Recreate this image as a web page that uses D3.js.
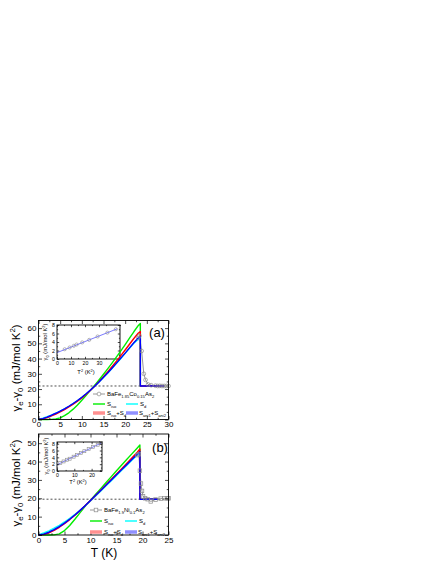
<!DOCTYPE html>
<html><head><meta charset="utf-8">
<script src="https://cdn.jsdelivr.net/npm/d3@7"></script>
<style>body{margin:0;background:#fff} text{font-family:"Liberation Sans",Arial,sans-serif}</style>
</head><body><svg id="c" width="436" height="564"></svg>
<script>
// ---------- Panel (a): BaFe1.85Co0.15As2 ----------
const xTicksA = [0,5,10,15,20,25,30];
const yTicksA = [0,10,20,30,40,50,60];
const tcA = 23.5, gnA = 22, fitEndA = 29;
const tFitA = [0,1,2,3,4,5,6,7,8,9,10,11,12,13,14,15,16,17,18,19,20,21,22,23,23.5];
const isoA  = [0,0,0,0.05,0.3,1.1,2.5,4.4,6.8,9.5,12.6,15.9,19.3,22.6,26.1,29.7,33.4,37.2,41.1,45.1,49.2,53.4,57.6,61.6,63];
const dA    = [0,0.8,1.8,2.9,4.1,5.5,7,8.6,10.4,12.4,14.5,16.8,19.3,21.9,24.7,27.6,30.6,33.7,36.9,40.1,43.4,46.8,50.1,52.6,53.5];
const isoDA = [0,0.4,1.3,2.4,3.6,5,6.5,8.2,10,12,14.2,16.6,19.2,22,25,28.1,31.4,34.8,38.3,41.9,45.6,49.4,53.2,56.6,57.8];
const aniA  = [0,0.6,1.6,2.8,4.1,5.5,7,8.7,10.5,12.5,14.6,16.9,19.4,22,24.8,27.7,30.7,33.8,37,40.3,43.6,47,50.4,53.5,54.5];
const tDataA = [1.5,2,3,4,5,6,7,8,9,10,11,12,13,14,15,16,17,18,19,20,21,22,23,23.3,23.8,24.3,24.7,25.3,26,27,27.5,28,28.5,29,29.5,30];
const gDataA = [1,1.5,2.7,4,5.4,7,8.6,10.4,12.4,14.5,16.8,19.4,22,24.8,27.6,30.6,33.8,37,40.2,43.5,46.9,50.3,53.6,55,45,30,26,23,22.5,22.2,22,22.1,22,22,22,22];
const markFromA = 23;
const insetXTicksA = [0,10,20,30];
const insetYTicksA = [0,2,4,6,8];
const insetTA = [5.5,9,12,14,18,23,29,36,42];
const insetGA = [2.3,2.7,3.1,3.4,3.9,4.5,5.3,6.2,7.0];
const insetFitTA = [0,43];
const insetFitGA = [1.5,7.1];

// ---------- Panel (b): BaFe1.9Ni0.1As2 ----------
const xTicksB = [0,5,10,15,20,25];
const yTicksB = [0,10,20,30,40,50];
const tcB = 19.5, gnB = 19.5, fitEndB = 23;
const tFitB = [0,1,2,3,4,5,6,7,8,9,10,11,12,13,14,15,16,17,18,19,19.5];
const isoB  = [0,0,0,0.05,0.6,2.4,5.2,8.6,12.2,15.7,19,22.2,25.4,28.6,31.8,35,38.1,41.2,44.3,47.4,49];
const dB    = [0,1.1,2.3,3.7,5.3,7.1,9.1,11.2,13.5,15.9,18.5,21.2,24,26.8,29.6,32.4,35.2,38,40.8,43.5,44.5];
const isoDB = [0,0.3,1.1,2.5,4.2,6.2,8.4,10.8,13.3,16,18.8,21.6,24.5,27.4,30.3,33.2,36.1,39.1,42.1,45.1,46.8];
const aniB  = [0,0.5,1.5,2.9,4.6,6.5,8.6,10.9,13.4,16,18.8,21.6,24.4,27.2,30,32.8,35.6,38.4,41.2,44,45.3];
const tDataB = [1,2,3,4,5,6,7,8,9,10,11,12,13,14,15,16,17,18,19,19.3,19.5,19.7,19.9,20.1,20.5,21,21.6,22.5,23.5,24.2,24.8,25];
const gDataB = [0.6,1.6,3,4.7,6.6,8.7,11,13.4,16,18.8,21.6,24.4,27.2,30,32.8,35.6,38.4,41.2,43.5,44,35,28,24,21,20,19.5,18.3,19.3,19.8,20,20,20];
const markFromB = 18.8;
const insetXTicksB = [0,10,20];
const insetYTicksB = [0,2,4,6,8];
const insetTB = [1.9,3.8,5.8,7.3,9.6,11.5,13.8,15.8,18.3,20.8,23.5,25.5];
const insetGB = [2.3,2.8,3.3,3.6,4.2,4.7,5.3,5.8,6.4,7.0,7.7,8.2];
const insetFitTB = [0,25.5];
const insetFitGB = [1.8,8.2];

const fitColors = {iso:"#00ee00", d:"#00ffff", isoD:"#ff0000", ani:"#0000ff"};
const FONT = '"Liberation Sans",Arial,sans-serif';

const svg = d3.select("#c");

function rich(t, parts, fs){
  let shift = 0;
  parts.forEach(([s,k])=>{
    const target = k==="sub" ? fs*0.28 : k==="sup" ? -fs*0.4 : 0;
    t.append("tspan").attr("dy", target-shift).attr("font-size", k==="n"?fs:fs*0.68).text(s);
    shift = target;
  });
}

function drawAxes(g, x, y, xt, xm, yt, ym, fs, tick, labels){
  const [y0,y1] = y.range(), [x0,x1] = x.range();
  const mk = (axis, ticks, size, lab, tr) => {
    const a = g.append("g").attr("transform", tr)
      .call(axis.tickValues(ticks).tickSizeInner(size).tickSizeOuter(0).tickPadding(2)
        .tickFormat(lab ? d3.format("d") : ""));
    a.select(".domain").remove();
    a.selectAll("line").attr("stroke","#000").attr("stroke-width",0.7);
    a.selectAll("text").attr("font-size",fs).attr("font-family",FONT).attr("fill","#000");
    a.attr("font-family",null);
  };
  mk(d3.axisBottom(x), xt, -tick, labels, `translate(0,${y0})`);
  mk(d3.axisBottom(x), xm, -tick/2, false, `translate(0,${y0})`);
  mk(d3.axisTop(x), xt, -tick, false, `translate(0,${y1})`);
  mk(d3.axisTop(x), xm, -tick/2, false, `translate(0,${y1})`);
  mk(d3.axisLeft(y), yt, -tick, labels, `translate(${x0},0)`);
  mk(d3.axisLeft(y), ym, -tick/2, false, `translate(${x0},0)`);
  mk(d3.axisRight(y), yt, -tick, false, `translate(${x1},0)`);
  mk(d3.axisRight(y), ym, -tick/2, false, `translate(${x1},0)`);
  g.append("rect").attr("x",x0).attr("y",y1).attr("width",x1-x0).attr("height",y0-y1)
    .attr("fill","none").attr("stroke","#000").attr("stroke-width",0.9);
}

function panel(cfg){
  const g = svg.append("g");
  const x = d3.scaleLinear().domain(cfg.xDom).range([38.5,168.5]);
  const y = d3.scaleLinear().domain(cfg.yDom).range(cfg.yRange);
  const line = d3.line().x(d=>x(d[0])).y(d=>y(d[1]));

  // inset (drawn first so curves pass over it)
  const I = cfg.inset;
  const ix = d3.scaleLinear().domain(I.xDom).range([I.box[0],I.box[2]]);
  const iy = d3.scaleLinear().domain(I.yDom).range([I.box[3],I.box[1]]);
  const ig = g.append("g");
  const il = d3.line().x(d=>ix(d[0])).y(d=>iy(d[1]));
  ig.append("path").attr("d",il(I.fitT.map((t,i)=>[t,I.fitG[i]]))).attr("stroke","#6a6aff")
    .attr("stroke-width",0.9).attr("fill","none");
  const ipts = I.t.map((t,i)=>[t,I.g[i]]);
  if(cfg.marker==="circle") ig.selectAll(null).data(ipts).join("circle").attr("cx",d=>ix(d[0])).attr("cy",d=>iy(d[1]))
    .attr("r",1.6).attr("fill","none").attr("stroke","#8c8c8c").attr("stroke-width",0.6);
  else ig.selectAll(null).data(ipts).join("rect").attr("x",d=>ix(d[0])-1.5).attr("y",d=>iy(d[1])-1.5)
    .attr("width",3).attr("height",3).attr("fill","none").attr("stroke","#8c8c8c").attr("stroke-width",0.6);
  const ixm = d3.range(I.xDom[0], I.xDom[1]+0.01, 5).filter(v=>v%10!==0);
  const iym = d3.range(I.yDom[0], I.yDom[1]+0.01, 1).filter(v=>v%2!==0);
  drawAxes(ig, ix, iy, I.xTicks, ixm, I.yTicks, iym, 5.2, 2.2, true);
  const ixt = ig.append("text").attr("x",I.xTitle[0]).attr("y",I.xTitle[1]).attr("text-anchor","middle").attr("font-size",5.8);
  rich(ixt, [["T","n"],["2","sup"],[" (K","n"],["2","sup"],[")","n"]], 5.8);
  const iyt = ig.append("text").attr("transform",`translate(${I.yTitle[0]},${I.yTitle[1]}) rotate(-90)`)
    .attr("text-anchor","middle").attr("font-size",5.8);
  rich(iyt, [["γ","n"],["0","sub"],[" (mJ/mol K","n"],["2","sup"],[")","n"]], 5.8);

  // dashed normal-state line
  g.append("line").attr("x1",x(cfg.xDom[0])).attr("x2",x(cfg.xDom[1]))
    .attr("y1",y(cfg.gn)).attr("y2",y(cfg.gn))
    .attr("stroke","#000").attr("stroke-width",0.7).attr("stroke-dasharray","2,2");

  // data
  const data = cfg.tData.map((t,i)=>[t,cfg.gData[i]]);
  g.append("path").attr("d",line(data)).attr("fill","none").attr("stroke","#8c8c8c").attr("stroke-width",0.9);

  // fits
  const fits = [["iso",cfg.iso],["d",cfg.d],["isoD",cfg.isoD],["ani",cfg.ani]];
  fits.forEach(([k,vals])=>{
    const pts = cfg.tFit.map((t,i)=>[t,vals[i]]);
    pts.push([cfg.tc,cfg.gn],[cfg.fitEnd,cfg.gn]);
    g.append("path").attr("d",line(pts)).attr("fill","none")
      .attr("stroke",fitColors[k]).attr("stroke-width",1.4).attr("stroke-linejoin","round");
  });

  // markers
  const marks = data.filter(d=>d[0]>=cfg.markFrom);
  if(cfg.marker==="circle"){
    g.selectAll(null).data(marks).join("circle").attr("cx",d=>x(d[0])).attr("cy",d=>y(d[1]))
      .attr("r",1.9).attr("fill","none").attr("stroke","#8c8c8c").attr("stroke-width",0.7);
  } else {
    g.selectAll(null).data(marks).join("rect").attr("x",d=>x(d[0])-1.8).attr("y",d=>y(d[1])-1.8)
      .attr("width",3.6).attr("height",3.6).attr("fill","none").attr("stroke","#8c8c8c").attr("stroke-width",0.7);
  }

  drawAxes(g, x, y, cfg.xTicks, cfg.xMinor, cfg.yTicks, cfg.yMinor, 8, 3.5, true);

  // panel label
  g.append("text").attr("x",cfg.labelPos[0]).attr("y",cfg.labelPos[1]).attr("font-size",13)
    .attr("text-anchor","middle").text(cfg.label);

  // y title
  const yt = g.append("text").attr("transform",`translate(${cfg.yTitle[0]},${cfg.yTitle[1]}) rotate(-90)`)
    .attr("text-anchor","middle").attr("font-size",11.5);
  rich(yt, [["γ","n"],["e","sub"],["-γ","n"],["0","sub"],[" (mJ/mol K","n"],["2","sup"],[")","n"]], 11.5);

  // legend
  const L = cfg.legend;
  const lg = g.append("g");
  lg.append("line").attr("x1",L.x1).attr("x2",L.x1+12).attr("y1",L.rows[0]).attr("y2",L.rows[0])
    .attr("stroke","#8c8c8c").attr("stroke-width",0.9);
  if(cfg.marker==="circle") lg.append("circle").attr("cx",L.x1+6).attr("cy",L.rows[0]).attr("r",1.9)
    .attr("fill","#fff").attr("stroke","#8c8c8c").attr("stroke-width",0.7);
  else lg.append("rect").attr("x",L.x1+4.2).attr("y",L.rows[0]-1.8).attr("width",3.6).attr("height",3.6)
    .attr("fill","#fff").attr("stroke","#8c8c8c").attr("stroke-width",0.7);
  const FS = 6;
  const lt = (xx,yy,parts)=>{ const t=lg.append("text").attr("x",xx).attr("y",yy+2.1).attr("font-size",FS); rich(t,parts,FS); };
  lt(L.x1+14, L.rows[0], cfg.sample);
  const sw = (xx,yy,col,w)=>lg.append("line").attr("x1",xx).attr("x2",xx+12).attr("y1",yy).attr("y2",yy)
    .attr("stroke",col).attr("stroke-width",w);
  sw(L.x1,L.rows[1],fitColors.iso,1.4); lt(L.x1+14,L.rows[1],[["S","n"],["iso","sub"]]);
  sw(L.x2,L.rows[1],fitColors.d,1.4); lt(L.x2+14,L.rows[1],[["S","n"],["d","sub"]]);
  sw(L.x1,L.rows[2],"#ff9090",3.5); lt(L.x1+14,L.rows[2],[["S","n"],["iso","sub"],["+S","n"],["d","sub"]]);
  sw(L.x2,L.rows[2],"#9090ff",3.5); lt(L.x2+13,L.rows[2],[["S","n"],["ani1","sub"],["+S","n"],["ani2","sub"]]);
  return {x,y};
}

panel({
  xDom:[0,30], yDom:[0,65], yRange:[419.5,320.5], gn:gnA, tc:tcA, fitEnd:fitEndA,
  xTicks:xTicksA, xMinor:d3.range(2.5,30,5), yTicks:yTicksA, yMinor:d3.range(5,65,10),
  tFit:tFitA, iso:isoA, d:dA, isoD:isoDA, ani:aniA, tData:tDataA, gData:gDataA,
  markFrom:markFromA, marker:"circle", label:"(a)", labelPos:[157,337], yTitle:[20,368],
  sample:[["BaFe","n"],["1.85","sub"],["Co","n"],["0.15","sub"],["As","n"],["2","sub"]],
  legend:{x1:93,x2:126,rows:[394,404,413]},
  inset:{box:[57,325,120,359], xDom:[0,45], yDom:[0,8], xTicks:insetXTicksA, yTicks:insetYTicksA,
    t:insetTA, g:insetGA, fitT:insetFitTA, fitG:insetFitGA, xTitle:[86,374], yTitle:[47,342]}
});

panel({
  xDom:[0,25], yDom:[0,55], yRange:[535,434], gn:gnB, tc:tcB, fitEnd:fitEndB,
  xTicks:xTicksB, xMinor:d3.range(2.5,25,5), yTicks:yTicksB, yMinor:d3.range(5,55,10),
  tFit:tFitB, iso:isoB, d:dB, isoD:isoDB, ani:aniB, tData:tDataB, gData:gDataB,
  markFrom:markFromB, marker:"square", label:"(b)", labelPos:[160,452], yTitle:[20,483],
  sample:[["BaFe","n"],["1.9","sub"],["Ni","n"],["0.1","sub"],["As","n"],["2","sub"]],
  legend:{x1:90,x2:125,rows:[510,521,532]},
  inset:{box:[57,442,102,471], xDom:[0,26], yDom:[0,8.5], xTicks:insetXTicksB, yTicks:insetYTicksB,
    t:insetTB, g:insetGB, fitT:insetFitTB, fitG:insetFitGB, xTitle:[78,484], yTitle:[48,456]}
});

svg.append("text").attr("x",104).attr("y",557).attr("text-anchor","middle").attr("font-size",12).text("T (K)");
</script></body></html>
